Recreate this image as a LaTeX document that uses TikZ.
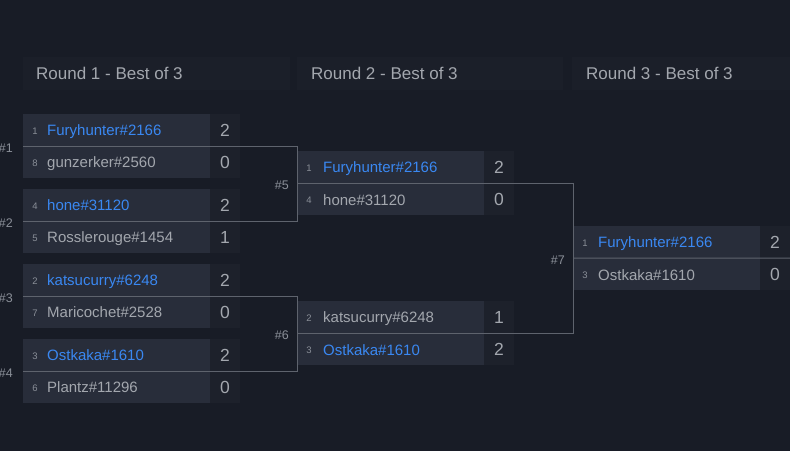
\documentclass[tikz,border=0pt]{standalone}
\usepackage{fontspec}
\setmainfont{Liberation Sans}
\definecolor{bgc}{HTML}{181C26}
\definecolor{hdrc}{HTML}{1B1F29}
\definecolor{namebg}{HTML}{282D3A}
\definecolor{scorebg}{HTML}{1D212B}
\definecolor{linec}{HTML}{5E636D}
\definecolor{txtgray}{HTML}{A3A7AE}
\definecolor{txtblue}{HTML}{3A88F2}
\definecolor{seedc}{HTML}{8A8F98}
\tikzset{
  hdrbox/.style={fill=hdrc, draw=none, anchor=north west, minimum height=33pt, inner sep=0pt},
  hdrtext/.style={anchor=base west, text=txtgray, font=\fontsize{17}{20}\selectfont, inner sep=0pt},
  namebox/.style={fill=namebg, draw=none, anchor=north west, minimum width=187pt, minimum height=64pt, inner sep=0pt},
  scorebox/.style={fill=scorebg, draw=none, anchor=north west, minimum width=30pt, minimum height=64pt, inner sep=0pt},
  seedtext/.style={anchor=base, text=seedc, font=\fontsize{9.5}{10}\selectfont, inner sep=0pt},
  nametext/.style={anchor=base west, font=\fontsize{15}{18}\selectfont, inner sep=0pt},
  scoretext/.style={anchor=base, text=txtgray, font=\fontsize{17.5}{20}\selectfont, inner sep=0pt},
  matchlabel/.style={anchor=east, text=seedc, font=\fontsize{12.5}{14}\selectfont, inner sep=0pt},
  conn/.style={draw=linec, line width=1pt},
}
\newcommand{\brmatch}[9]{%
  % #1 id, #2 x, #3 y top, #4 seed1, #5 unused, #6 score1, #7 seed2, #8 unused, #9 score2
  \node[namebox] (#1) at (#2,#3) {};
  \node[scorebox] (#1s) at (#2+187,#3) {};
  \node[seedtext] (#1a) at (#2+12,#3+20) {#4};
  \node[seedtext] (#1b) at (#2+12,#3+52) {#7};
  \node[scoretext] (#1c) at (#2+202,#3+22.5) {#6};
  \node[scoretext] (#1d) at (#2+202,#3+54.5) {#9};
}
\begin{document}
\begin{tikzpicture}[x=1pt,y=-1pt]
\fill[bgc] (0,0) rectangle (790,451);
\useasboundingbox (0,0) rectangle (790,451);
% headers
\node[hdrbox, minimum width=267pt] (h1) at (23,57) {};
\node[hdrbox, minimum width=266pt] (h2) at (297,57) {};
\node[hdrbox, minimum width=218pt] (h3) at (572,57) {};
\node[hdrtext] (h1t) at (36,79.5) {Round 1 - Best of 3};
\node[hdrtext] (h2t) at (311,79.5) {Round 2 - Best of 3};
\node[hdrtext] (h3t) at (586,79.5) {Round 3 - Best of 3};
% matches
\brmatch{m1}{23}{114}{1}{}{2}{8}{}{0}
\brmatch{m2}{23}{189}{4}{}{2}{5}{}{1}
\brmatch{m3}{23}{264}{2}{}{2}{7}{}{0}
\brmatch{m4}{23}{339}{3}{}{2}{6}{}{0}
\brmatch{m5}{297}{151}{1}{}{2}{4}{}{0}
\brmatch{m6}{297}{301}{2}{}{1}{3}{}{2}
\brmatch{m7}{573}{226}{1}{}{2}{3}{}{0}
% names
\node[nametext, text=txtblue] (n1a) at (47,135.5) {Furyhunter\#2166};
\node[nametext, text=txtgray] (n1b) at (47,167.5) {gunzerker\#2560};
\node[nametext, text=txtblue] (n2a) at (47,210.5) {hone\#31120};
\node[nametext, text=txtgray] (n2b) at (47,242.5) {Rosslerouge\#1454};
\node[nametext, text=txtblue] (n3a) at (47,285.5) {katsucurry\#6248};
\node[nametext, text=txtgray] (n3b) at (47,317.5) {Maricochet\#2528};
\node[nametext, text=txtblue] (n4a) at (47,360.5) {Ostkaka\#1610};
\node[nametext, text=txtgray] (n4b) at (47,392.5) {Plantz\#11296};
\node[nametext, text=txtblue] (n5a) at (323,172.5) {Furyhunter\#2166};
\node[nametext, text=txtgray] (n5b) at (323,205.5) {hone\#31120};
\node[nametext, text=txtgray] (n6a) at (323,322.5) {katsucurry\#6248};
\node[nametext, text=txtblue] (n6b) at (323,355.5) {Ostkaka\#1610};
\node[nametext, text=txtblue] (n7a) at (598,247.5) {Furyhunter\#2166};
\node[nametext, text=txtgray] (n7b) at (598,280.5) {Ostkaka\#1610};
% connectors
\coordinate (end7) at (790,258);
\draw[conn] (m1.west) -- (m5.west |- m1.west) -- (m5.west |- m2.west) -- (m2.west);
\draw[conn] (m3.west) -- (m6.west |- m3.west) -- (m6.west |- m4.west) -- (m4.west);
\draw[conn] (m5.west) -- (m7.west |- m5.west) -- (m7.west |- m6.west) -- (m6.west);
\draw[conn] (m7.west) -- (end7);
% match labels
\node[matchlabel] (l1) at ([xshift=-10pt,yshift=-2pt]m1.west) {\#1};
\node[matchlabel] (l2) at ([xshift=-10pt,yshift=-2pt]m2.west) {\#2};
\node[matchlabel] (l3) at ([xshift=-10pt,yshift=-2pt]m3.west) {\#3};
\node[matchlabel] (l4) at ([xshift=-10pt,yshift=-2pt]m4.west) {\#4};
\node[matchlabel] (l5) at ([xshift=-8pt,yshift=-2pt]m5.west) {\#5};
\node[matchlabel] (l6) at ([xshift=-8pt,yshift=-2pt]m6.west) {\#6};
\node[matchlabel] (l7) at ([xshift=-8pt,yshift=-2pt]m7.west) {\#7};
\end{tikzpicture}
\end{document}
